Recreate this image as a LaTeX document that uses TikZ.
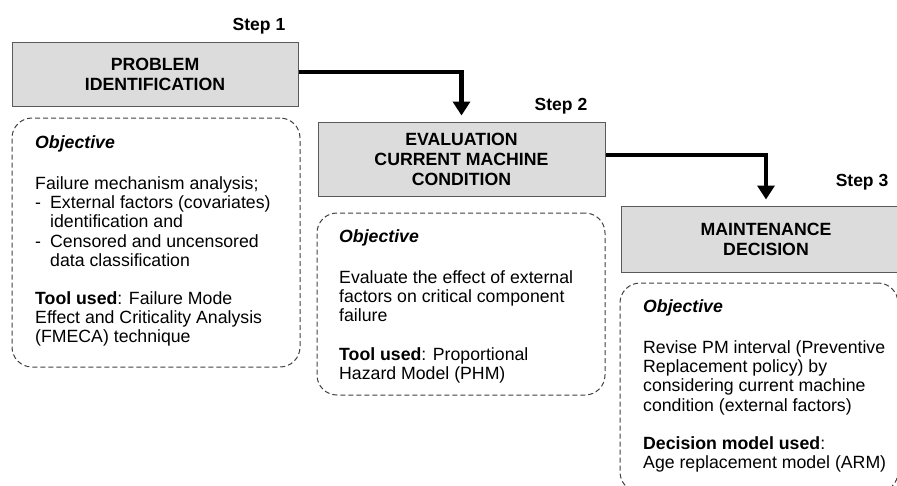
\documentclass[tikz,border=0pt]{standalone}
\usepackage{fontspec}
\setmainfont{Liberation Sans}
\usetikzlibrary{arrows.meta}
\definecolor{boxgray}{HTML}{DCDCDC}
\definecolor{edgegray}{HTML}{5A5A5A}
\begin{document}
\begin{tikzpicture}[x=1pt,y=-1pt,
  stepbox/.style={draw=edgegray, line width=1pt, fill=boxgray, align=center,
    inner sep=0pt, font=\bfseries\fontsize{17.7}{20}\selectfont},
  objbox/.style={draw=black!75, line width=1pt, dash pattern=on 5pt off 3pt,
    rounded corners=20pt, inner sep=0pt},
  objtext/.style={anchor=north west, inner sep=0pt, align=left,
    font=\fontsize{17.7}{19.2}\selectfont},
  steplabel/.style={anchor=base, inner sep=0pt, font=\bfseries\fontsize{17.5}{20}\selectfont},
  flow/.style={line width=4.5pt, -{Triangle[width=17pt,length=14pt]}, shorten >=6pt}
]
\useasboundingbox (0,0) rectangle (897,485);
\clip (0,0) rectangle (897,485);

% process boxes
\node[stepbox, minimum width=286pt, minimum height=64pt] (b1) at (155,74)
  {PROBLEM\\IDENTIFICATION};
\node[stepbox, minimum width=287pt, minimum height=74pt] (b2) at (461.5,159)
  {EVALUATION\\CURRENT MACHINE\\CONDITION};
\node[stepbox, minimum width=290pt, minimum height=66pt] (b3) at (766,239)
  {MAINTENANCE\\DECISION};

% step labels
\node[steplabel] (s1) at (259,30) {Step 1};
\node[steplabel] (s2) at (561,110) {Step 2};
\node[steplabel] (s3) at (862,186) {Step 3};

% connectors between steps
\draw[flow] ([yshift=2pt]b1.east) -| (b2.north);
\draw[flow] ([yshift=4pt]b2.east) -| (b3.north);

% dashed objective frames
\node[objbox, minimum width=288pt, minimum height=249pt] (o1) at (156,242.5) {};
\node[objbox, minimum width=288pt, minimum height=182pt] (o2) at (461,304) {};
\node[objbox, minimum width=278pt, minimum height=209pt] (o3) at (759,387.5) {};

% objective texts
\node[objtext] (t1) at (35,134) {\rule{0pt}{14pt}\textbf{\textit{Objective}}\\[22pt]
  Failure mechanism analysis;\\
  \makebox[15pt][l]{-}External factors (covariates)\\
  \hspace*{15pt}identification and\\
  \makebox[15pt][l]{-}Censored and uncensored\\
  \hspace*{15pt}data classification\\[19pt]
  \textbf{Tool used}: Failure Mode\\
  Effect and Criticality Analysis\\
  (FMECA) technique};

\node[objtext] (t2) at (339,228) {\rule{0pt}{14pt}\textbf{\textit{Objective}}\\[22pt]
  Evaluate the effect of external\\
  factors on critical component\\
  failure\\[19pt]
  \textbf{Tool used}: Proportional\\
  Hazard Model (PHM)};

\node[objtext] (t3) at (643,298) {\rule{0pt}{14pt}\textbf{\textit{Objective}}\\[22pt]
  Revise PM interval (Preventive\\
  Replacement policy) by\\
  considering current machine\\
  condition (external factors)\\[19pt]
  \textbf{Decision model used}:\\
  Age replacement model (ARM)};
\end{tikzpicture}
\end{document}
